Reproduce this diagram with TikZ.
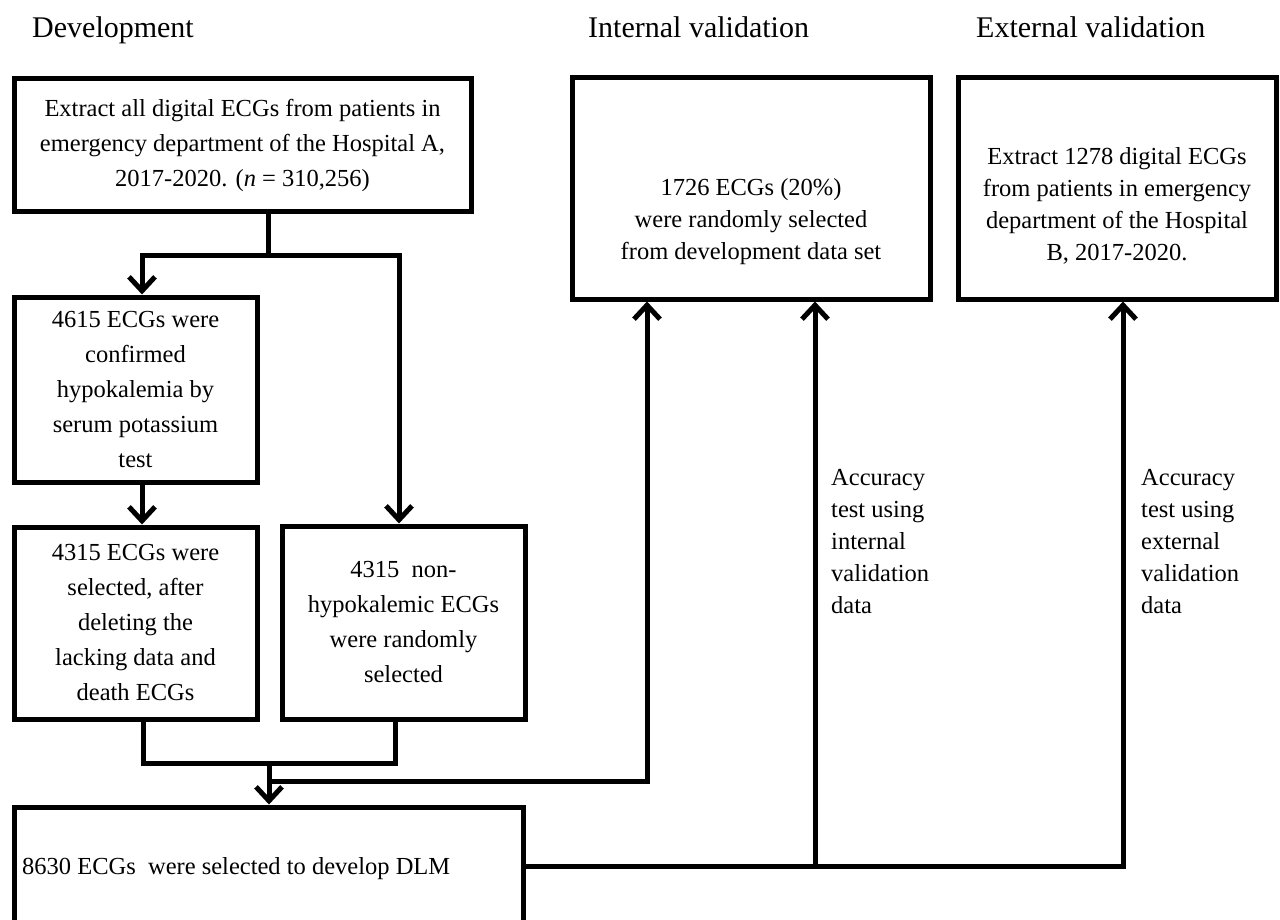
\documentclass[tikz,border=0pt]{standalone}
\usepackage{fontspec}
\setmainfont{Liberation Serif}
\usetikzlibrary{arrows.meta}
\begin{document}
\begin{tikzpicture}[x=1pt,y=-1pt,
  box/.style={draw, line width=5pt, inner sep=0pt, align=center,
    font=\fontsize{24.5}{35}\selectfont},
  txt/.style={inner sep=0pt, align=center, font=\fontsize{24.5}{32}\selectfont},
  lbl/.style={inner sep=0pt, align=left, anchor=west, font=\fontsize{24.5}{32}\selectfont},
  ttl/.style={inner sep=0pt, anchor=base west, font=\fontsize{30}{36}\selectfont},
  ln/.style={line width=5pt, line join=miter},
  arr/.style={ln, -{Straight Barb[length=14pt,width=26pt,line width=5pt]}}]
\useasboundingbox (0,0) rectangle (1280,920);
\clip (0,0) rectangle (1280,920);
\fill[white] (0,0) rectangle (1280,920);

% titles
\node[ttl] (t1) at (32,38) {Development};
\node[ttl] (t2) at (588,38) {Internal validation};
\node[ttl] (t3) at (976,38) {External validation};

% boxes
\node[box, minimum width=457pt, minimum height=133pt] (box1) at (242.5,145.5)
  {Extract all digital ECGs from patients in\\emergency department of the Hospital A,\\2017-2020. (\textit{n} = 310,256)};
\node[box, minimum width=358pt, minimum height=221pt] (ibox) at (751,188.5) {};
\node[txt] (itext) at (751,222) {1726 ECGs (20\%)\\were randomly selected\\from development data set};
\node[box, minimum width=318pt, minimum height=221pt] (ebox) at (1117,188.5) {};
\node[txt] (etext) at (1117,206) {Extract 1278 digital ECGs\\from patients in emergency\\department of the Hospital\\B, 2017-2020.};
\node[box, minimum width=243pt, minimum height=185pt] (box2) at (135.5,389.5)
  {4615 ECGs were\\confirmed\\hypokalemia by\\serum potassium\\test};
\node[box, minimum width=243pt, minimum height=192pt] (box3) at (135.5,623)
  {4315 ECGs were\\selected, after\\deleting the\\lacking data and\\death ECGs};
\node[box, minimum width=243pt, minimum height=193pt] (box4) at (403.5,622.5)
  {4315\ \ non-\\hypokalemic ECGs\\were randomly\\selected};
\node[box, minimum width=509pt, minimum height=133pt] (box5) at (268.5,873.5) {};
\node[txt, anchor=base west] (t5) at (22,874) {8630 ECGs\ \ were selected to develop DLM};

\node[lbl] (acc1) at (831,542) {Accuracy\\test using\\internal\\validation\\data};
\node[lbl] (acc2) at (1141,542) {Accuracy\\test using\\external\\validation\\data};

% junction coordinates
\coordinate (j1) at (268,256);
\coordinate (a1) at (142,256);
\coordinate (a2) at (399,256);
\coordinate (b1) at (143,763);
\coordinate (b2) at (395,763);
\coordinate (c1) at (269,763);
\coordinate (d1) at (269,781);
\coordinate (d2) at (647,781);
\coordinate (e1) at (815,866);
\coordinate (e2) at (1123,866);

% connectors
\draw[arr] (box1.south -| j1) -- (j1) -- (a1) -- (box2.north -| a1);
\draw[arr] (j1) -- (a2) -- (box4.north -| a2);
\draw[arr] (box2.south -| a1) -- (box3.north -| a1);
\draw[ln] (box3.south -| b1) -- (b1) -- (b2) -- (box4.south -| b2);
\draw[arr] (c1) -- (box5.north -| c1);
\draw[arr] (d1) -- (d2) -- (ibox.south -| d2);
\draw[arr] (box5.east |- e2) -- (e2) -- (ebox.south -| e2);
\draw[arr] (e1) -- (ibox.south -| e1);
\end{tikzpicture}
\end{document}
